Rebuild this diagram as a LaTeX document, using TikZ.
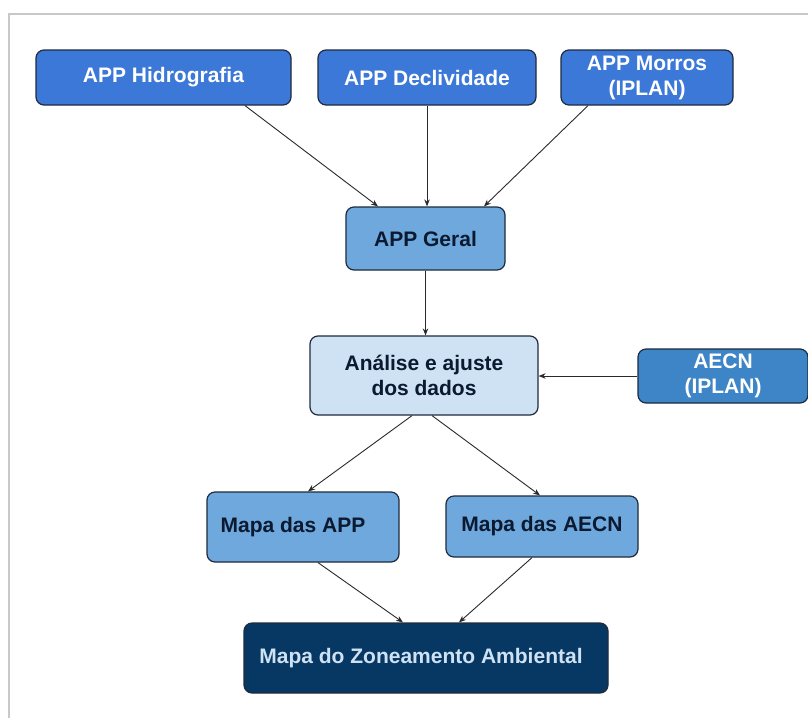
\documentclass[tikz,border=0pt]{standalone}
\usepackage{fontspec}
\setmainfont{Liberation Sans}
\usetikzlibrary{arrows.meta}
\definecolor{frameGray}{HTML}{C8C8C8}
\definecolor{edgeDark}{HTML}{1F2B3E}
\definecolor{blueA}{HTML}{3C78D8}
\definecolor{blueB}{HTML}{3D85C6}
\definecolor{blueC}{HTML}{6FA8DC}
\definecolor{blueD}{HTML}{CFE2F3}
\definecolor{navy}{HTML}{073763}
\definecolor{inkDark}{HTML}{0B1A30}
\definecolor{linkGray}{HTML}{2A2A2A}
\tikzset{
  box/.style={draw=edgeDark, line width=1.2pt, rounded corners=8pt, inner sep=0pt,
    align=center, font=\bfseries\fontsize{21}{25}\selectfont},
  srcbox/.style={box, fill=blueA, text=white},
  midbox/.style={box, fill=blueC, text=inkDark},
  link/.style={draw=linkGray, line width=0.9pt, -{Stealth[length=7pt,width=5.5pt]}}
}
\begin{document}
\begin{tikzpicture}[x=1pt, y=-1pt]
  % canvas and frame
  \fill[white] (0,0) rectangle (808,718);
  \useasboundingbox (0,0) rectangle (808,718);
  \draw[frameGray, line width=2pt] (8.5,718) -- (8.5,13.5) -- (808,13.5);

  % sources
  \node[srcbox, minimum width=255pt, minimum height=55pt] (hid) at (163.5,77.5) {APP Hidrografia};
  \node[srcbox, minimum width=218pt, minimum height=55pt] (dec) at (427,77.5) {APP Declividade};
  \node[srcbox, minimum width=172pt, minimum height=55pt] (mor) at (647,77.5) {APP Morros\\(IPLAN)};

  % processing
  \node[midbox, minimum width=159pt, minimum height=63pt] (ger) at (425.5,238.5) {APP Geral};
  \node[box, fill=blueD, text=inkDark, minimum width=228pt, minimum height=79pt] (ana) at (424,375.5) {Análise e ajuste\\dos dados};
  \node[box, fill=blueB, text=white, minimum width=170pt, minimum height=54pt] (aec) at (723,376) {AECN\\(IPLAN)};

  % outputs
  \node[midbox, minimum width=192pt, minimum height=70pt] (mapp) at (303,527) {\hspace*{-20pt}Mapa das APP};
  \node[midbox, minimum width=192pt, minimum height=61pt] (maec) at (542,526.5) {Mapa das AECN};
  \node[box, fill=navy, text=blueD, minimum width=364pt, minimum height=70pt] (zon) at (426,658) {\hspace*{-10pt}Mapa do Zoneamento Ambiental};

  % connectors
  \draw[link] ([xshift=81.5pt]hid.south) -- ([xshift=-47.5pt]ger.north);
  \draw[link] (dec.south) -- (dec.south |- ger.north);
  \draw[link] ([xshift=-59pt]mor.south) -- ([xshift=58.5pt]ger.north);
  \draw[link] (ger.south) -- (ger.south |- ana.north);
  \draw[link] (aec.west) -- (aec.west -| ana.east);
  \draw[link] ([xshift=-12pt]ana.south) -- ([xshift=5pt]mapp.north);
  \draw[link] ([xshift=8pt]ana.south) -- ([xshift=-2pt]maec.north);
  \draw[link] ([xshift=15pt]mapp.south) -- ([xshift=-23pt]zon.north);
  \draw[link] ([xshift=-10pt]maec.south) -- ([xshift=33pt]zon.north);
\end{tikzpicture}
\end{document}
